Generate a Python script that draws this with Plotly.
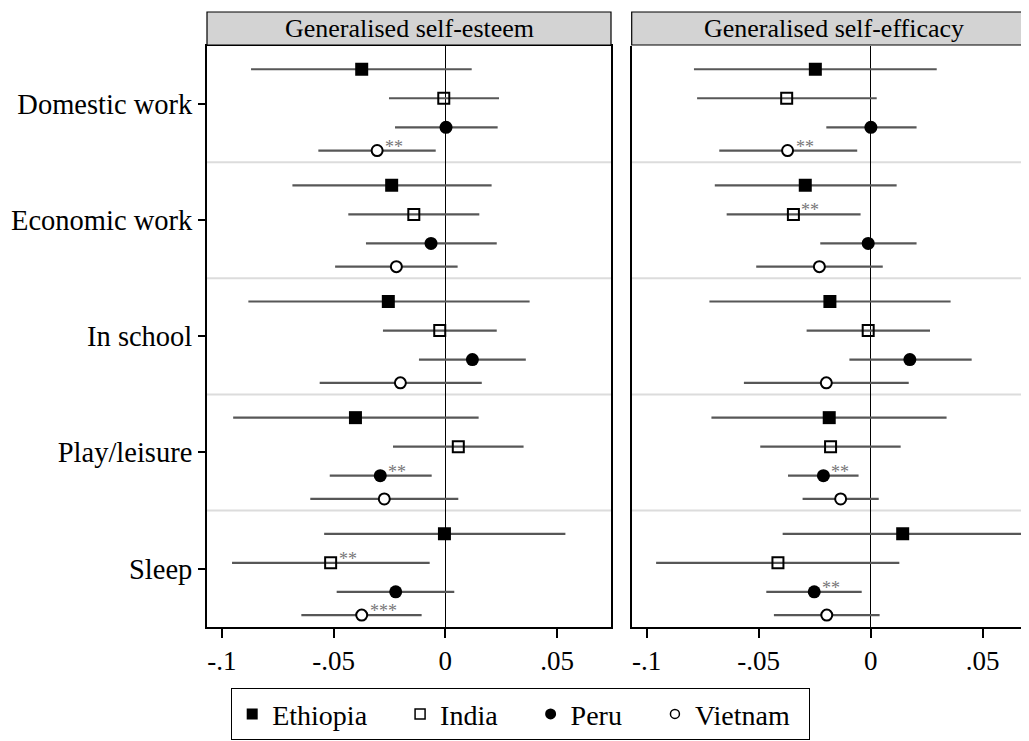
import plotly.graph_objects as go

categories = ["Domestic work", "Economic work", "In school", "Play/leisure", "Sleep"]
countries = ["Ethiopia", "India", "Peru", "Vietnam"]
panels = ["Generalised self-esteem", "Generalised self-efficacy"]
tick_vals = [-0.1, -0.05, 0, 0.05]
tick_text = ["-.1", "-.05", "0", ".05"]

# Generalised self-esteem
esteem_est = {
    "Ethiopia": [-0.0374, -0.0240, -0.0255, -0.0402, -0.0004],
    "India":    [-0.0007, -0.0141, -0.0025, 0.0058, -0.0513],
    "Peru":     [0.0003, -0.0064, 0.0121, -0.0291, -0.0222],
    "Vietnam":  [-0.0305, -0.0219, -0.0201, -0.0273, -0.0374],
}
esteem_lo = {
    "Ethiopia": [-0.0869, -0.0684, -0.0881, -0.0949, -0.0542],
    "India":    [-0.0252, -0.0434, -0.0279, -0.0234, -0.0954],
    "Peru":     [-0.0225, -0.0355, -0.0118, -0.0517, -0.0486],
    "Vietnam":  [-0.0568, -0.0493, -0.0562, -0.0604, -0.0644],
}
esteem_hi = {
    "Ethiopia": [0.0118, 0.0207, 0.0377, 0.0149, 0.0537],
    "India":    [0.0240, 0.0152, 0.0230, 0.0350, -0.0070],
    "Peru":     [0.0234, 0.0230, 0.0360, -0.0061, 0.0040],
    "Vietnam":  [-0.0043, 0.0055, 0.0163, 0.0058, -0.0106],
}
esteem_sig = {
    "Ethiopia": ["", "", "", "", ""],
    "India":    ["", "", "", "", "**"],
    "Peru":     ["", "", "", "**", ""],
    "Vietnam":  ["**", "", "", "", "***"],
}

# Generalised self-efficacy
efficacy_est = {
    "Ethiopia": [-0.0247, -0.0292, -0.0182, -0.0185, 0.0143],
    "India":    [-0.0375, -0.0345, -0.0011, -0.0179, -0.0414],
    "Peru":     [0.0001, -0.0011, 0.0175, -0.0211, -0.0252],
    "Vietnam":  [-0.0371, -0.0229, -0.0198, -0.0134, -0.0196],
}
efficacy_lo = {
    "Ethiopia": [-0.0789, -0.0696, -0.0720, -0.0711, -0.0393],
    "India":    [-0.0775, -0.0643, -0.0286, -0.0493, -0.0958],
    "Peru":     [-0.0198, -0.0225, -0.0095, -0.0369, -0.0466],
    "Vietnam":  [-0.0676, -0.0511, -0.0566, -0.0304, -0.0432],
}
efficacy_hi = {
    "Ethiopia": [0.0295, 0.0116, 0.0357, 0.0339, 0.0679],
    "India":    [0.0027, -0.0045, 0.0265, 0.0134, 0.0128],
    "Peru":     [0.0205, 0.0205, 0.0451, -0.0054, -0.0040],
    "Vietnam":  [-0.0060, 0.0054, 0.0170, 0.0036, 0.0040],
}
efficacy_sig = {
    "Ethiopia": ["", "", "", "", ""],
    "India":    ["", "**", "", "", ""],
    "Peru":     ["", "", "", "**", "**"],
    "Vietnam":  ["**", "", "", "", ""],
}

# ---- styling / layout ----
OFF = 8  # default page body margin
W, H = 1029 - OFF, 741 - OFF
FONT = "Liberation Serif"
GROUP = 5.0
row_offset = {"Ethiopia": 1.0, "India": 2.25, "Peru": 3.5, "Vietnam": 4.5}
marker_style = {
    "Ethiopia": dict(symbol="square", size=13, color="black", line=dict(width=0)),
    "India":    dict(symbol="square-open", size=11, color="black", line=dict(width=2, color="black")),
    "Peru":     dict(symbol="circle", size=13, color="black", line=dict(width=0)),
    "Vietnam":  dict(symbol="circle", size=11, color="white", line=dict(width=2, color="black")),
}
legend_style = {
    "Ethiopia": dict(symbol="square", size=11, color="black"),
    "India":    dict(symbol="square-open", size=10, color="black", line=dict(width=1.5, color="black")),
    "Peru":     dict(symbol="circle", size=11, color="black"),
    "Vietnam":  dict(symbol="circle", size=9, color="white", line=dict(width=1.5, color="black")),
}
legend_pad = {"Ethiopia": 4, "India": 4, "Peru": 4, "Vietnam": 2}

def px_x(v):
    return (v - OFF) / W

def px_y(v):
    return 1 - (v - OFF) / H

fig = go.Figure()

panel_data = [
    (esteem_est, esteem_lo, esteem_hi, esteem_sig, "x", "y"),
    (efficacy_est, efficacy_lo, efficacy_hi, efficacy_sig, "x2", "y2"),
]

annotations = []
for est, lo, hi, sig, xa, ya in panel_data:
    for c in countries:
        ys = [i * GROUP + row_offset[c] for i in range(len(categories))]
        fig.add_trace(go.Scatter(
            x=est[c], y=ys, mode="markers", name=c, showlegend=False,
            xaxis=xa, yaxis=ya,
            marker=marker_style[c],
            error_x=dict(type="data", symmetric=False,
                         array=[h - e for h, e in zip(hi[c], est[c])],
                         arrayminus=[e - l for e, l in zip(est[c], lo[c])],
                         color="#575757", thickness=2.2, width=0),
        ))
        for e, yv, s in zip(est[c], ys, sig[c]):
            if s:
                annotations.append(dict(
                    x=e, y=yv, xref=xa, yref=ya, text=s, showarrow=False,
                    xanchor="left", yanchor="middle", xshift=6, yshift=4,
                    font=dict(family=FONT, size=18, color="#777777")))

# legend-only traces
for c in countries:
    fig.add_trace(go.Scatter(x=[None], y=[None], mode="markers",
                             name=c + "\u00a0" * legend_pad[c],
                             marker=legend_style[c], xaxis="x", yaxis="y"))

ydom = [px_y(626.7), px_y(46)]
left_dom = [px_x(207), px_x(611)]
right_dom = [px_x(631.7), 1.0]

axis_common = dict(tickvals=tick_vals, ticktext=tick_text, ticks="outside",
                   ticklen=9, tickwidth=2, tickcolor="black",
                   showline=True, linewidth=2, linecolor="black",
                   showgrid=False, zeroline=True, zerolinecolor="black",
                   zerolinewidth=1,
                   tickfont=dict(family=FONT, size=27, color="black"))

shapes = []
for xa_name, ya_name in [("x", "y"), ("x2", "y2")]:
    for k in range(1, len(categories)):
        shapes.append(dict(type="line", xref=f"{xa_name} domain", yref=ya_name,
                           x0=0, x1=1, y0=k * GROUP, y1=k * GROUP,
                           line=dict(color="#dcdcdc", width=2), layer="below"))

# strip headers
header_spans = [(px_x(207), px_x(611)), (px_x(631.7), 1.02)]
header_centres = [px_x((207 + 611) / 2), px_x((631.7 + 1036.7) / 2)]
for (x0, x1), xc, title in zip(header_spans, header_centres, panels):
    shapes.append(dict(type="rect", xref="paper", yref="paper",
                       x0=x0, x1=x1, y0=px_y(45), y1=px_y(12),
                       fillcolor="#d3d3d3", line=dict(color="black", width=1.2)))
    annotations.append(dict(x=xc, y=px_y(28.5), xref="paper", yref="paper", text=title,
                            showarrow=False, xanchor="center", yanchor="middle",
                            font=dict(family=FONT, size=26, color="black")))

fig.update_layout(
    width=W, height=H,
    margin=dict(l=0, r=0, t=0, b=0),
    paper_bgcolor="white", plot_bgcolor="white",
    font=dict(family=FONT, color="black"),
    xaxis=dict(domain=left_dom, range=[-0.1066, 0.0741], anchor="y", mirror=True, **axis_common),
    yaxis=dict(domain=ydom, range=[25, 0], anchor="x",
               tickvals=[i * GROUP + 2.5 for i in range(len(categories))],
               ticktext=categories, ticks="outside", ticklen=7, tickwidth=2,
               tickcolor="black", showline=True, linewidth=2, linecolor="black",
               mirror=True, showgrid=False, zeroline=False,
               tickfont=dict(family=FONT, size=28.5, color="black")),
    xaxis2=dict(domain=right_dom, range=[-0.1067, 0.0707], anchor="y2", mirror=False, **axis_common),
    yaxis2=dict(domain=ydom, range=[25, 0], anchor="x2", showticklabels=False,
                ticks="", showline=True, linewidth=2, linecolor="black",
                showgrid=False, zeroline=False),
    shapes=shapes,
    annotations=annotations,
    showlegend=True,
    legend=dict(orientation="h", x=px_x(231), y=px_y(688), xanchor="left", yanchor="top",
                bordercolor="black", borderwidth=1.2, bgcolor="white",
                font=dict(family=FONT, size=28, color="black"),
                itemsizing="trace", traceorder="normal"),
)

fig.write_html("out.html")
